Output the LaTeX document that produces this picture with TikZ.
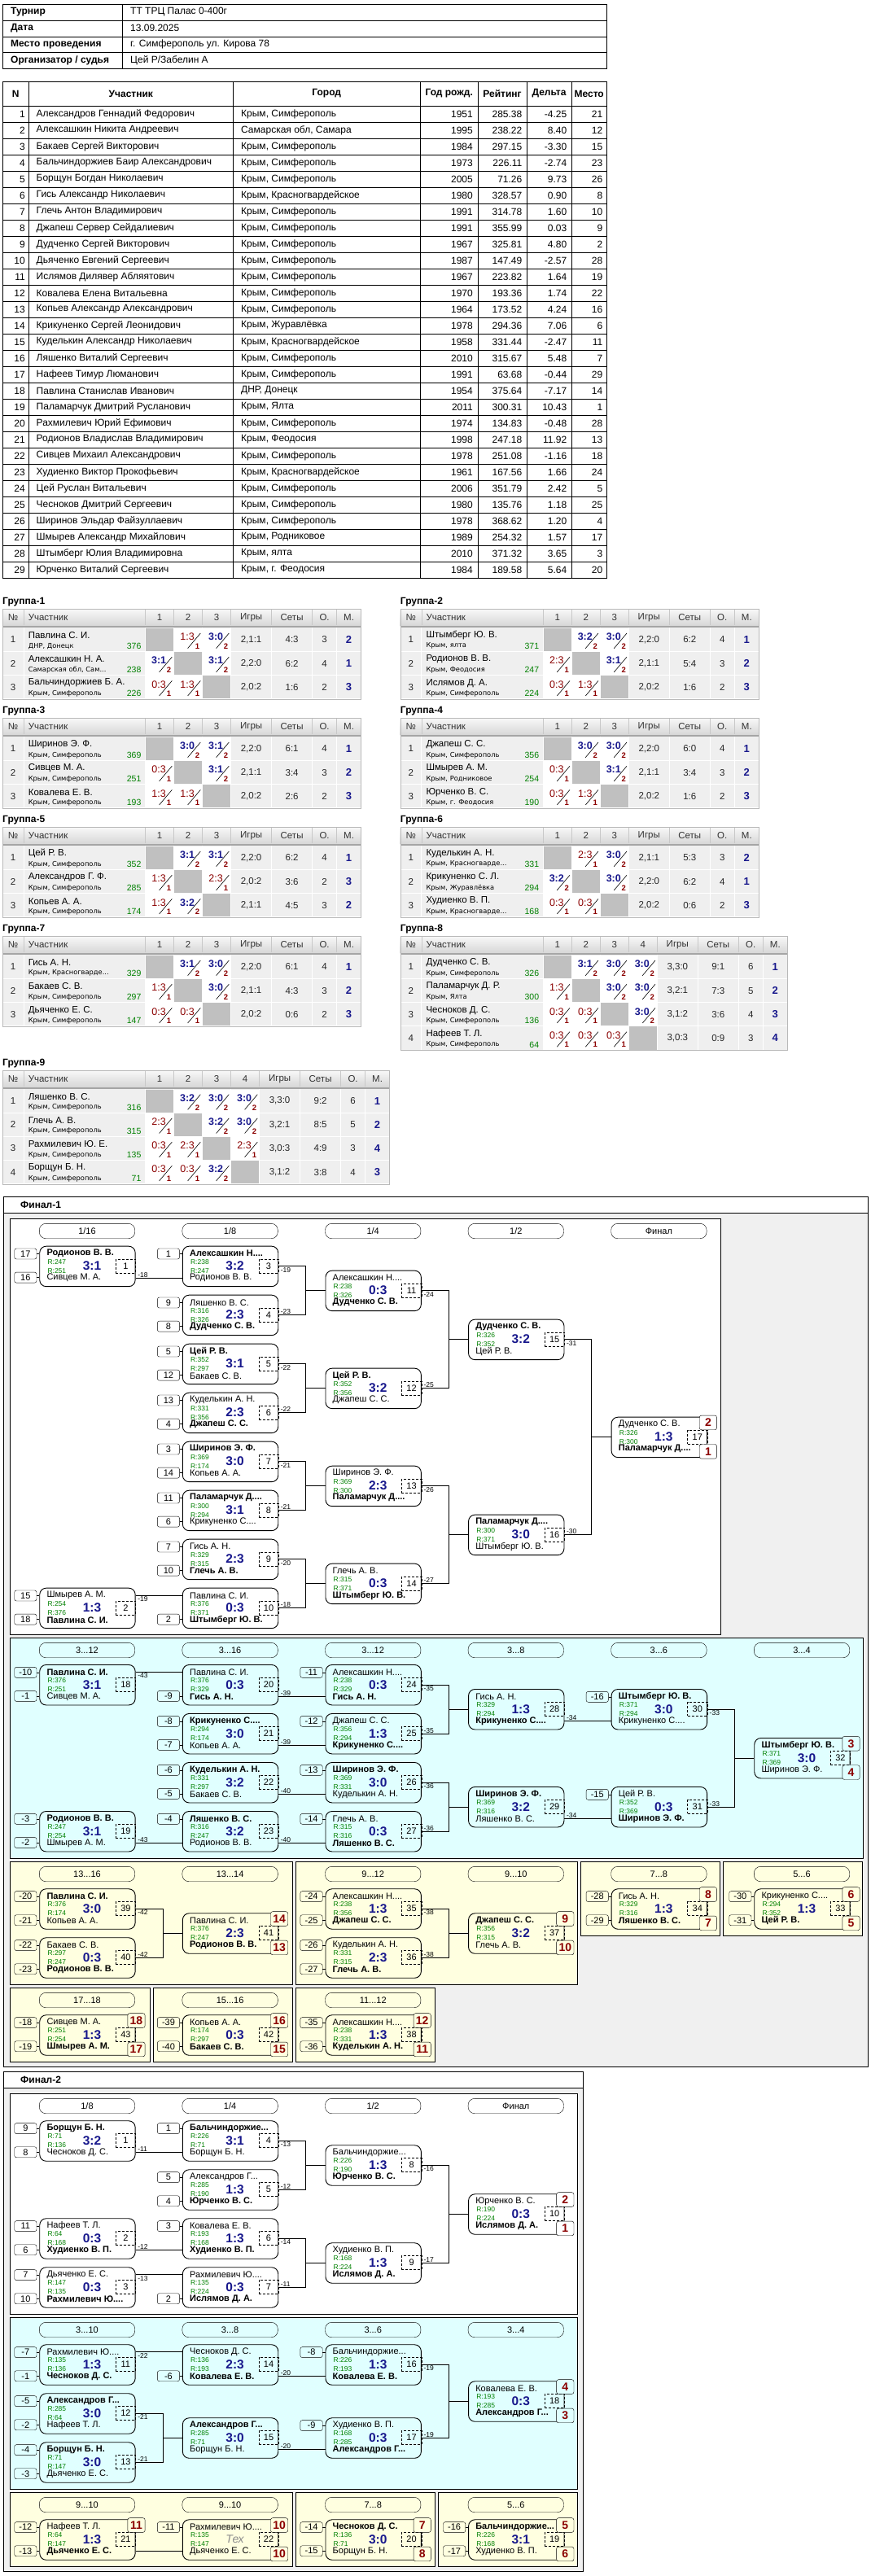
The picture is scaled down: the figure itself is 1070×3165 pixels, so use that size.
\documentclass[tikz,border=0pt]{standalone}
\usepackage{fontspec}
\setmainfont{Liberation Sans}
\newfontfamily\citiesfont{DejaVu Sans}
\usetikzlibrary{calc,positioning}

\definecolor{scoreblue}{RGB}{24,24,140}
\definecolor{lossred}{RGB}{139,0,0}
\definecolor{ratinggreen}{RGB}{0,128,0}
\definecolor{panelcyan}{RGB}{224,255,255}
\definecolor{panelyellow}{RGB}{255,255,224}
\definecolor{framegrey}{RGB}{240,240,240}
\definecolor{cellgrey}{RGB}{239,239,239}
\definecolor{diaggrey}{RGB}{192,192,192}
\definecolor{headtop}{RGB}{248,248,248}
\definecolor{headbottom}{RGB}{214,214,214}
\definecolor{headline}{RGB}{165,165,165}
\definecolor{headsep}{RGB}{200,200,200}
\definecolor{tableedge}{RGB}{185,185,185}
\definecolor{texgrey}{RGB}{140,140,140}

\newcommand\fsz[1]{\fontsize{#1}{#1}\selectfont}
\newcommand\W[1]{\textbf{#1}}
\newcommand\placefill{white}

% players table row: N, name, city, year, rating, delta, place
\newcommand\Player[7]{%
  \pgfmathsetmacro\py{120+20*#1}%
  \draw (3,\py+10) -- (745.6,\py+10);
  \node[pvalue] at (31,\py) {#1};
  \node[ptext] at (44.5,\py) {#2};
  \node[ptext] at (296,\py) {#3};
  \node[pvalue] at (581,\py) {#4};
  \node[pvalue] at (641.5,\py) {#5};
  \node[pvalue] at (696.5,\py) {#6};
  \node[pvalue] at (740.5,\py) {#7};
}

% group tables
\newcommand\GSet[2]{\def\gx{#1}\def\gy{#2}}
\newcommand\GTable[3]{% title, rows, score columns
  \pgfmathsetmacro\gs{175.6+35*#3}%
  \pgfmathsetmacro\gw{\gs+160}%
  \pgfmathsetmacro\gb{23+29.2*#2}%
  \node[gtitle] at (\gx,\gy-8.5) {#1};
  \shade[top color=headtop,bottom color=headbottom] (\gx,\gy) rectangle ++(\gw,21);
  \fill[cellgrey] (\gx,\gy+23) rectangle ++(\gw,\gb-23);
  \fill[headline] (\gx,\gy+21) rectangle ++(\gw,2);
  \foreach \c in {26,175.6,\gs+50,\gs+100,\gs+130}{
    \draw[white,line width=1pt] (\gx+\c,\gy+23) -- ++(0,\gb-23);
    \draw[headsep] (\gx+\c,\gy+1) -- ++(0,19);
  }
  \foreach \k in {1,...,#3}{
    \draw[white,line width=1pt] (\gx+175.6+35*\k,\gy+23) -- ++(0,\gb-23);
    \draw[headsep] (\gx+175.6+35*\k,\gy+1) -- ++(0,19);
    \node[ghead] at (\gx+158.1+35*\k,\gy+10.5) {\k};
  }
  \foreach \r in {1,...,#2}{
    \draw[white,line width=1pt] (\gx,\gy+23+29.2*\r) -- ++(\gw,0);
  }
  \draw[tableedge] (\gx,\gy) rectangle ++(\gw,\gb);
  \node[ghead] at (\gx+13,\gy+10.5) {№};
  \node[ghead,anchor=west] at (\gx+31.6,\gy+10.5) {Участник};
  \node[ghead] at (\gx+\gs+25,\gy+10.5) {Игры};
  \node[ghead] at (\gx+\gs+75,\gy+10.5) {Сеты};
  \node[ghead] at (\gx+\gs+115,\gy+10.5) {О.};
  \node[ghead] at (\gx+\gs+145,\gy+10.5) {М.};
}
\newcommand\GRow[4]{% row, name, city, rating
  \pgfmathsetmacro\ry{\gy+23+29.2*(#1-1)}%
  \node[gtext] at (\gx+13,\ry+14.6) {#1};
  \node[gname] at (\gx+31.6,\ry+9.5) {#2};
  \node[gcity] at (\gx+31.6,\ry+22.5) {#3};
  \node[grate] at (\gx+170.6,\ry+22.5) {#4};
}
\newcommand\GSum[6]{% row, score columns, games, sets, points, place
  \pgfmathsetmacro\ry{\gy+23+29.2*(#1-1)}%
  \pgfmathsetmacro\rx{\gx+175.6+35*#2}%
  \node[gtext] at (\rx+25,\ry+14.6) {#3};
  \node[gtext] at (\rx+75,\ry+14.6) {#4};
  \node[gtext] at (\rx+115,\ry+14.6) {#5};
  \node[gplace] at (\rx+145,\ry+14.6) {#6};
}
\newcommand\GWin[3]{% row, column, score
  \pgfmathsetmacro\ry{\gy+23+29.2*(#1-1)}%
  \pgfmathsetmacro\rx{\gx+175.6+35*(#2-1)}%
  \fill[white] (\rx+0.5,\ry+0.5) rectangle ++(34,28.2);
  \node[gwin] at (\rx+16.5,\ry+11) {#3};
  \draw[gslash] (\rx+17,\ry+25.3) -- (\rx+32.7,\ry+6.7);
  \node[gdigit] at (\rx+29,\ry+22.7) {2};
}
\newcommand\GLoss[3]{% row, column, score
  \pgfmathsetmacro\ry{\gy+23+29.2*(#1-1)}%
  \pgfmathsetmacro\rx{\gx+175.6+35*(#2-1)}%
  \fill[white] (\rx+0.5,\ry+0.5) rectangle ++(34,28.2);
  \node[gloss] at (\rx+16.5,\ry+11) {#3};
  \draw[gslash] (\rx+17,\ry+25.3) -- (\rx+32.7,\ry+6.7);
  \node[gdigit] at (\rx+29,\ry+22.7) {1};
}
\newcommand\GDiag[1]{%
  \pgfmathsetmacro\ry{\gy+23+29.2*(#1-1)}%
  \pgfmathsetmacro\rx{\gx+175.6+35*(#1-1)}%
  \fill[diaggrey] (\rx+0.5,\ry+0.5) rectangle ++(34,28.2);
}

% bracket: match box
% name, x, y, top player, top rating, bottom player, bottom rating, score, match no
\newcommand\Match[9]{%
  \node[matchbox] (#1) at (#2,#3) {};
  \node[playername] at ($(#1.north west)+(9,9.5)$) {#4};
  \node[ratingtxt] at ($(#1.north west)+(10,19.5)$) {R:#5};
  \node[ratingtxt] at ($(#1.north west)+(10,30.5)$) {R:#7};
  \node[playername] at ($(#1.north west)+(9,39.5)$) {#6};
  \node[scoretxt] at ($(#1.north west)+(64.7,24.7)$) {#8};
  \node[matchno] at ($(#1.north east)+(-12.2,24.7)$) {#9};
}
\newcommand\SeedT[2]{%
  \node[seedbox] (#1-st) at ($(#1.north west)+(-16.95,9.8)$) {#2};
  \draw (#1-st.east) -- (#1-st.east -| #1.west);
}
\newcommand\SeedB[2]{%
  \node[seedbox] (#1-sb) at ($(#1.north west)+(-16.95,38.9)$) {#2};
  \draw (#1-sb.east) -- (#1-sb.east -| #1.west);
}
\newcommand\PlaceT[2]{\node[placebox] (#1-pt) at ($(#1.north east)+(0.9,7.2)$) {#2};}
\newcommand\PlaceB[2]{\node[placebox] (#1-pb) at ($(#1.north east)+(0.9,42.6)$) {#2};}
% winner goes on into the bottom slot of the next box
\newcommand\ToBottom[3]{%
  \coordinate (#1-out) at ($(#1.north east)+(0,39.5)$);
  \draw[connector] (#1-out) -- (#1-out -| #2.west);
  \node[lbl,anchor=south west] at ($(#1-out)+(2.5,-0.8)$) {#3};
}
% winner goes on into the top slot of the next box
\newcommand\ToTop[3]{%
  \coordinate (#1-out) at ($(#1.north east)+(0,9.5)$);
  \draw[connector] (#1-out) -- (#1-out -| #2.west);
  \node[lbl,anchor=north west] at ($(#1-out)+(2.5,1.2)$) {#3};
}
% two boxes into one
\newcommand\Pair[5]{%
  \draw[connector] (#1.east) -- ++(33.5,0) |- (#3.west);
  \draw[connector] (#2.east) -- ++(33.5,0) |- (#3.west);
  \node[lbl,anchor=north west] at ($(#1.east)+(2.5,1.2)$) {#4};
  \node[lbl,anchor=south west] at ($(#2.east)+(2.5,-0.8)$) {#5};
}

\begin{document}
\begin{tikzpicture}[x=1pt,y=-1pt]

\tikzset{
  ptext/.style = {anchor=west, inner sep=0, font=\fsz{12}},
  pvalue/.style = {anchor=east, inner sep=0, font=\fsz{12}},
  phead/.style = {inner sep=0, font=\fsz{12}\bfseries},
  gtitle/.style = {anchor=west, inner sep=0, font=\fsz{12}\bfseries},
  ghead/.style = {inner sep=0, font=\fsz{11.5}, text=black!80},
  gtext/.style = {inner sep=0, font=\fsz{11.5}, text=black!85},
  gname/.style = {anchor=west, inner sep=0, font=\fsz{11.5}},
  gcity/.style = {anchor=west, inner sep=0, font=\citiesfont\fsz{8.3}},
  grate/.style = {anchor=east, inner sep=0, font=\fsz{10.5}, text=ratinggreen},
  gwin/.style = {inner sep=0, font=\fsz{12.5}\bfseries, text=scoreblue},
  gloss/.style = {inner sep=0, font=\fsz{12.5}, text=lossred},
  gdigit/.style = {inner sep=0, font=\fsz{9.5}\bfseries, text=lossred},
  gplace/.style = {inner sep=0, font=\fsz{13}\bfseries, text=scoreblue},
  gslash/.style = {line width=0.6pt},
  matchbox/.style = {draw, rounded corners=8pt, anchor=north west, minimum width=117.4pt,
                     minimum height=49.5pt, inner sep=0, line width=0.9pt},
  playername/.style = {anchor=west, inner sep=0, font=\fsz{11}},
  ratingtxt/.style = {anchor=west, inner sep=0, font=\fsz{8.5}, text=ratinggreen},
  scoretxt/.style = {inner sep=0, font=\fsz{15.5}\bfseries, text=scoreblue},
  matchno/.style = {draw, densely dashed, minimum width=24.4pt, minimum height=16.7pt,
                    inner sep=0, font=\fsz{11}},
  seedbox/.style = {draw, rounded corners=2.5pt, minimum width=27.3pt, minimum height=13pt,
                    inner sep=0, font=\fsz{11}},
  placebox/.style = {draw, fill=\placefill, rounded corners=2.5pt, minimum width=21.3pt,
                     minimum height=17.7pt, inner sep=0, font=\fsz{14}\bfseries, text=lossred},
  connector/.style = {line width=0.9pt},
  lbl/.style = {inner sep=0, font=\fsz{8.5}},
  stagepill/.style = {draw, rounded corners=8pt, minimum width=117.4pt, minimum height=18.4pt,
                      inner sep=0, font=\fsz{11}},
  panel/.style = {draw, line width=0.8pt}
}

\fill[white] (0,0) rectangle (1070,3165);
\useasboundingbox (0,0) rectangle (1070,3165);

% header
\draw (3,5) rectangle (745.6,84.4);
\draw (150.5,5) -- (150.5,84.4);
\draw (3,24.85) -- (745.6,24.85) (3,44.7) -- (745.6,44.7) (3,64.55) -- (745.6,64.55);
\node[ptext,font=\fsz{12}\bfseries] at (13,14.9) {Турнир};
\node[ptext,font=\fsz{12}\bfseries] at (13,34.8) {Дата};
\node[ptext,font=\fsz{12}\bfseries] at (13,54.6) {Место проведения};
\node[ptext,font=\fsz{12}\bfseries] at (13,74.5) {Организатор / судья};
\node[ptext] at (160,14.9) {ТТ ТРЦ Палас 0-400г};
\node[ptext] at (160,34.8) {13.09.2025};
\node[ptext] at (160,54.6) {г. Симферополь ул. Кирова 78};
\node[ptext] at (160,74.5) {Цей Р/Забелин А};

% players
\draw (3,100) rectangle (745.6,710);
\draw (3,130) -- (745.6,130);
\foreach \c in {35.6,285.9,516.4,586.9,647.1,701.8}
  \draw (\c,100) -- (\c,710);
\node[phead] at (19.3,115) {N};
\node[phead] at (160.8,115) {Участник};
\node[phead] at (401.2,115) {Город};
\node[phead] at (551.7,115) {Год рожд.};
\node[phead] at (617,115) {Рейтинг};
\node[phead] at (674.5,115) {Дельта};
\node[phead] at (723.7,115) {Место};
\Player{1}{Александров Геннадий Федорович}{Крым, Симферополь}{1951}{285.38}{-4.25}{21}
\Player{2}{Алексашкин Никита Андреевич}{Самарская обл, Самара}{1995}{238.22}{8.40}{12}
\Player{3}{Бакаев Сергей Викторович}{Крым, Симферополь}{1984}{297.15}{-3.30}{15}
\Player{4}{Бальчиндоржиев Баир Александрович}{Крым, Симферополь}{1973}{226.11}{-2.74}{23}
\Player{5}{Борщун Богдан Николаевич}{Крым, Симферополь}{2005}{71.26}{9.73}{26}
\Player{6}{Гись Александр Николаевич}{Крым, Красногвардейское}{1980}{328.57}{0.90}{8}
\Player{7}{Глечь Антон Владимирович}{Крым, Симферополь}{1991}{314.78}{1.60}{10}
\Player{8}{Джапеш Сервер Сейдалиевич}{Крым, Симферополь}{1991}{355.99}{0.03}{9}
\Player{9}{Дудченко Сергей Викторович}{Крым, Симферополь}{1967}{325.81}{4.80}{2}
\Player{10}{Дьяченко Евгений Сергеевич}{Крым, Симферополь}{1987}{147.49}{-2.57}{28}
\Player{11}{Ислямов Дилявер Абляятович}{Крым, Симферополь}{1967}{223.82}{1.64}{19}
\Player{12}{Ковалева Елена Витальевна}{Крым, Симферополь}{1970}{193.36}{1.74}{22}
\Player{13}{Копьев Александр Александрович}{Крым, Симферополь}{1964}{173.52}{4.24}{16}
\Player{14}{Крикуненко Сергей Леонидович}{Крым, Журавлёвка}{1978}{294.36}{7.06}{6}
\Player{15}{Куделькин Александр Николаевич}{Крым, Красногвардейское}{1958}{331.44}{-2.47}{11}
\Player{16}{Ляшенко Виталий Сергеевич}{Крым, Симферополь}{2010}{315.67}{5.48}{7}
\Player{17}{Нафеев Тимур Люманович}{Крым, Симферополь}{1991}{63.68}{-0.44}{29}
\Player{18}{Павлина Станислав Иванович}{ДНР, Донецк}{1954}{375.64}{-7.17}{14}
\Player{19}{Паламарчук Дмитрий Русланович}{Крым, Ялта}{2011}{300.31}{10.43}{1}
\Player{20}{Рахмилевич Юрий Ефимович}{Крым, Симферополь}{1974}{134.83}{-0.48}{28}
\Player{21}{Родионов Владислав Владимирович}{Крым, Феодосия}{1998}{247.18}{11.92}{13}
\Player{22}{Сивцев Михаил Александрович}{Крым, Симферополь}{1978}{251.08}{-1.16}{18}
\Player{23}{Худиенко Виктор Прокофьевич}{Крым, Красногвардейское}{1961}{167.56}{1.66}{24}
\Player{24}{Цей Руслан Витальевич}{Крым, Симферополь}{2006}{351.79}{2.42}{5}
\Player{25}{Чесноков Дмитрий Сергеевич}{Крым, Симферополь}{1980}{135.76}{1.18}{25}
\Player{26}{Ширинов Эльдар Файзуллаевич}{Крым, Симферополь}{1978}{368.62}{1.20}{4}
\Player{27}{Шмырев Александр Михайлович}{Крым, Родниковое}{1989}{254.32}{1.57}{17}
\Player{28}{Штымберг Юлия Владимировна}{Крым, ялта}{2010}{371.32}{3.65}{3}
\Player{29}{Юрченко Виталий Сергеевич}{Крым, г. Феодосия}{1984}{189.58}{5.64}{20}

% groups
\GSet{3}{748.3}\GTable{Группа-1}{3}{3}
\GRow{1}{Павлина С. И.}{ДНР, Донецк}{376}\GDiag{1}\GLoss{1}{2}{1:3}\GWin{1}{3}{3:0}\GSum{1}{3}{2,1:1}{4:3}{3}{2}
\GRow{2}{Алексашкин Н. А.}{Самарская обл, Сам...}{238}\GWin{2}{1}{3:1}\GDiag{2}\GWin{2}{3}{3:1}\GSum{2}{3}{2,2:0}{6:2}{4}{1}
\GRow{3}{Бальчиндоржиев Б. А.}{Крым, Симферополь}{226}\GLoss{3}{1}{0:3}\GLoss{3}{2}{1:3}\GDiag{3}\GSum{3}{3}{2,0:2}{1:6}{2}{3}

\GSet{491.7}{748.3}\GTable{Группа-2}{3}{3}
\GRow{1}{Штымберг Ю. В.}{Крым, ялта}{371}\GDiag{1}\GWin{1}{2}{3:2}\GWin{1}{3}{3:0}\GSum{1}{3}{2,2:0}{6:2}{4}{1}
\GRow{2}{Родионов В. В.}{Крым, Феодосия}{247}\GLoss{2}{1}{2:3}\GDiag{2}\GWin{2}{3}{3:1}\GSum{2}{3}{2,1:1}{5:4}{3}{2}
\GRow{3}{Ислямов Д. А.}{Крым, Симферополь}{224}\GLoss{3}{1}{0:3}\GLoss{3}{2}{1:3}\GDiag{3}\GSum{3}{3}{2,0:2}{1:6}{2}{3}

\GSet{3}{882.3}\GTable{Группа-3}{3}{3}
\GRow{1}{Ширинов Э. Ф.}{Крым, Симферополь}{369}\GDiag{1}\GWin{1}{2}{3:0}\GWin{1}{3}{3:1}\GSum{1}{3}{2,2:0}{6:1}{4}{1}
\GRow{2}{Сивцев М. А.}{Крым, Симферополь}{251}\GLoss{2}{1}{0:3}\GDiag{2}\GWin{2}{3}{3:1}\GSum{2}{3}{2,1:1}{3:4}{3}{2}
\GRow{3}{Ковалева Е. В.}{Крым, Симферополь}{193}\GLoss{3}{1}{1:3}\GLoss{3}{2}{1:3}\GDiag{3}\GSum{3}{3}{2,0:2}{2:6}{2}{3}

\GSet{491.7}{882.3}\GTable{Группа-4}{3}{3}
\GRow{1}{Джапеш С. С.}{Крым, Симферополь}{356}\GDiag{1}\GWin{1}{2}{3:0}\GWin{1}{3}{3:0}\GSum{1}{3}{2,2:0}{6:0}{4}{1}
\GRow{2}{Шмырев А. М.}{Крым, Родниковое}{254}\GLoss{2}{1}{0:3}\GDiag{2}\GWin{2}{3}{3:1}\GSum{2}{3}{2,1:1}{3:4}{3}{2}
\GRow{3}{Юрченко В. С.}{Крым, г. Феодосия}{190}\GLoss{3}{1}{0:3}\GLoss{3}{2}{1:3}\GDiag{3}\GSum{3}{3}{2,0:2}{1:6}{2}{3}

\GSet{3}{1016.3}\GTable{Группа-5}{3}{3}
\GRow{1}{Цей Р. В.}{Крым, Симферополь}{352}\GDiag{1}\GWin{1}{2}{3:1}\GWin{1}{3}{3:1}\GSum{1}{3}{2,2:0}{6:2}{4}{1}
\GRow{2}{Александров Г. Ф.}{Крым, Симферополь}{285}\GLoss{2}{1}{1:3}\GDiag{2}\GLoss{2}{3}{2:3}\GSum{2}{3}{2,0:2}{3:6}{2}{3}
\GRow{3}{Копьев А. А.}{Крым, Симферополь}{174}\GLoss{3}{1}{1:3}\GWin{3}{2}{3:2}\GDiag{3}\GSum{3}{3}{2,1:1}{4:5}{3}{2}

\GSet{491.7}{1016.3}\GTable{Группа-6}{3}{3}
\GRow{1}{Куделькин А. Н.}{Крым, Красногварде...}{331}\GDiag{1}\GLoss{1}{2}{2:3}\GWin{1}{3}{3:0}\GSum{1}{3}{2,1:1}{5:3}{3}{2}
\GRow{2}{Крикуненко С. Л.}{Крым, Журавлёвка}{294}\GWin{2}{1}{3:2}\GDiag{2}\GWin{2}{3}{3:0}\GSum{2}{3}{2,2:0}{6:2}{4}{1}
\GRow{3}{Худиенко В. П.}{Крым, Красногварде...}{168}\GLoss{3}{1}{0:3}\GLoss{3}{2}{0:3}\GDiag{3}\GSum{3}{3}{2,0:2}{0:6}{2}{3}

\GSet{3}{1150.3}\GTable{Группа-7}{3}{3}
\GRow{1}{Гись А. Н.}{Крым, Красногварде...}{329}\GDiag{1}\GWin{1}{2}{3:1}\GWin{1}{3}{3:0}\GSum{1}{3}{2,2:0}{6:1}{4}{1}
\GRow{2}{Бакаев С. В.}{Крым, Симферополь}{297}\GLoss{2}{1}{1:3}\GDiag{2}\GWin{2}{3}{3:0}\GSum{2}{3}{2,1:1}{4:3}{3}{2}
\GRow{3}{Дьяченко Е. С.}{Крым, Симферополь}{147}\GLoss{3}{1}{0:3}\GLoss{3}{2}{0:3}\GDiag{3}\GSum{3}{3}{2,0:2}{0:6}{2}{3}

\GSet{491.7}{1150.3}\GTable{Группа-8}{4}{4}
\GRow{1}{Дудченко С. В.}{Крым, Симферополь}{326}\GDiag{1}\GWin{1}{2}{3:1}\GWin{1}{3}{3:0}\GWin{1}{4}{3:0}\GSum{1}{4}{3,3:0}{9:1}{6}{1}
\GRow{2}{Паламарчук Д. Р.}{Крым, Ялта}{300}\GLoss{2}{1}{1:3}\GDiag{2}\GWin{2}{3}{3:0}\GWin{2}{4}{3:0}\GSum{2}{4}{3,2:1}{7:3}{5}{2}
\GRow{3}{Чесноков Д. С.}{Крым, Симферополь}{136}\GLoss{3}{1}{0:3}\GLoss{3}{2}{0:3}\GDiag{3}\GWin{3}{4}{3:0}\GSum{3}{4}{3,1:2}{3:6}{4}{3}
\GRow{4}{Нафеев Т. Л.}{Крым, Симферополь}{64}\GLoss{4}{1}{0:3}\GLoss{4}{2}{0:3}\GLoss{4}{3}{0:3}\GDiag{4}\GSum{4}{4}{3,0:3}{0:9}{3}{4}

\GSet{3}{1315}\GTable{Группа-9}{4}{4}
\GRow{1}{Ляшенко В. С.}{Крым, Симферополь}{316}\GDiag{1}\GWin{1}{2}{3:2}\GWin{1}{3}{3:0}\GWin{1}{4}{3:0}\GSum{1}{4}{3,3:0}{9:2}{6}{1}
\GRow{2}{Глечь А. В.}{Крым, Симферополь}{315}\GLoss{2}{1}{2:3}\GDiag{2}\GWin{2}{3}{3:2}\GWin{2}{4}{3:0}\GSum{2}{4}{3,2:1}{8:5}{5}{2}
\GRow{3}{Рахмилевич Ю. Е.}{Крым, Симферополь}{135}\GLoss{3}{1}{0:3}\GLoss{3}{2}{2:3}\GDiag{3}\GLoss{3}{4}{2:3}\GSum{3}{4}{3,0:3}{4:9}{3}{4}
\GRow{4}{Борщун Б. Н.}{Крым, Симферополь}{71}\GLoss{4}{1}{0:3}\GLoss{4}{2}{0:3}\GWin{4}{3}{3:2}\GDiag{4}\GSum{4}{4}{3,1:2}{3:8}{4}{3}

% Final-1 frame
\fill[framegrey] (4,1490.7) rectangle (1066.7,2539.3);
\draw[panel] (4,1470) rectangle (1066.7,2539.3);
\draw[panel] (4,1490.7) -- (1066.7,1490.7);
\node[gtitle] at (25,1480.8) {Финал-1};
\draw[panel,fill=white] (12.3,1497) rectangle (885.2,2008.3);
\draw[panel,fill=panelcyan] (12.3,2012.3) rectangle (1060.8,2283.3);
\draw[panel,fill=panelyellow] (12.3,2287.3) rectangle (358.9,2438.3);
\draw[panel,fill=panelyellow] (363,2287.3) rectangle (709.5,2438.3);
\draw[panel,fill=panelyellow] (713.6,2287.3) rectangle (884.5,2378.3);
\draw[panel,fill=panelyellow] (888.6,2287.3) rectangle (1059.5,2378.3);
\draw[panel,fill=panelyellow] (12.3,2442.3) rectangle (183.9,2533.3);
\draw[panel,fill=panelyellow] (188,2442.3) rectangle (358.9,2533.3);
\draw[panel,fill=panelyellow] (363,2442.3) rectangle (534.5,2533.3);

% Final-1, main draw
\node[stagepill] at (107,1512.5) {1/16};
\node[stagepill] at (282.6,1512.5) {1/8};
\node[stagepill] at (458.2,1512.5) {1/4};
\node[stagepill] at (633.8,1512.5) {1/2};
\node[stagepill] at (809.4,1512.5) {Финал};

\Match{a1}{48.3}{1530.7}{\W{Родионов В. В.}}{247}{Сивцев М. А.}{251}{3:1}{1}
\SeedT{a1}{17}\SeedB{a1}{16}
\Match{a2}{48.3}{1950.7}{Шмырев А. М.}{254}{\W{Павлина С. И.}}{376}{1:3}{2}
\SeedT{a2}{15}\SeedB{a2}{18}
\Match{a3}{223.9}{1530.7}{\W{Алексашкин Н....}}{238}{Родионов В. В.}{247}{3:2}{3}
\SeedT{a3}{1}
\Match{a4}{223.9}{1590.7}{Ляшенко В. С.}{316}{\W{Дудченко С. В.}}{326}{2:3}{4}
\SeedT{a4}{9}\SeedB{a4}{8}
\Match{a5}{223.9}{1650.7}{\W{Цей Р. В.}}{352}{Бакаев С. В.}{297}{3:1}{5}
\SeedT{a5}{5}\SeedB{a5}{12}
\Match{a6}{223.9}{1710.7}{Куделькин А. Н.}{331}{\W{Джапеш С. С.}}{356}{2:3}{6}
\SeedT{a6}{13}\SeedB{a6}{4}
\Match{a7}{223.9}{1770.7}{\W{Ширинов Э. Ф.}}{369}{Копьев А. А.}{174}{3:0}{7}
\SeedT{a7}{3}\SeedB{a7}{14}
\Match{a8}{223.9}{1830.7}{\W{Паламарчук Д....}}{300}{Крикуненко С....}{294}{3:1}{8}
\SeedT{a8}{11}\SeedB{a8}{6}
\Match{a9}{223.9}{1890.7}{Гись А. Н.}{329}{\W{Глечь А. В.}}{315}{2:3}{9}
\SeedT{a9}{7}\SeedB{a9}{10}
\Match{a10}{223.9}{1950.7}{Павлина С. И.}{376}{\W{Штымберг Ю. В.}}{371}{0:3}{10}
\SeedB{a10}{2}
\Match{a11}{399.5}{1560.7}{Алексашкин Н....}{238}{\W{Дудченко С. В.}}{326}{0:3}{11}
\Match{a12}{399.5}{1680.7}{\W{Цей Р. В.}}{352}{Джапеш С. С.}{356}{3:2}{12}
\Match{a13}{399.5}{1800.7}{Ширинов Э. Ф.}{369}{\W{Паламарчук Д....}}{300}{2:3}{13}
\Match{a14}{399.5}{1920.7}{Глечь А. В.}{315}{\W{Штымберг Ю. В.}}{371}{0:3}{14}
\Match{a15}{575.1}{1620.7}{\W{Дудченко С. В.}}{326}{Цей Р. В.}{352}{3:2}{15}
\Match{a16}{575.1}{1860.7}{\W{Паламарчук Д....}}{300}{Штымберг Ю. В.}{371}{3:0}{16}
\Match{a17}{750.7}{1740.7}{Дудченко С. В.}{326}{\W{Паламарчук Д....}}{300}{1:3}{17}
\PlaceT{a17}{2}\PlaceB{a17}{1}

\ToBottom{a1}{a3}{-18}
\ToTop{a2}{a10}{-19}
\Pair{a3}{a4}{a11}{-19}{-23}
\Pair{a5}{a6}{a12}{-22}{-22}
\Pair{a7}{a8}{a13}{-21}{-21}
\Pair{a9}{a10}{a14}{-20}{-18}
\Pair{a11}{a12}{a15}{-24}{-25}
\Pair{a13}{a14}{a16}{-26}{-27}
\Pair{a15}{a16}{a17}{-31}{-30}

% Final-1, places 3-12
\def\placefill{panelcyan}
\node[stagepill] at (107,2027.5) {3...12};
\node[stagepill] at (282.6,2027.5) {3...16};
\node[stagepill] at (458.2,2027.5) {3...12};
\node[stagepill] at (633.8,2027.5) {3...8};
\node[stagepill] at (809.4,2027.5) {3...6};
\node[stagepill] at (985,2027.5) {3...4};

\Match{b18}{48.3}{2045}{\W{Павлина С. И.}}{376}{Сивцев М. А.}{251}{3:1}{18}
\SeedT{b18}{-10}\SeedB{b18}{-1}
\Match{b19}{48.3}{2225}{\W{Родионов В. В.}}{247}{Шмырев А. М.}{254}{3:1}{19}
\SeedT{b19}{-3}\SeedB{b19}{-2}
\Match{b20}{223.9}{2045}{Павлина С. И.}{376}{\W{Гись А. Н.}}{329}{0:3}{20}
\SeedB{b20}{-9}
\Match{b21}{223.9}{2105}{\W{Крикуненко С....}}{294}{Копьев А. А.}{174}{3:0}{21}
\SeedT{b21}{-8}\SeedB{b21}{-7}
\Match{b22}{223.9}{2165}{\W{Куделькин А. Н.}}{331}{Бакаев С. В.}{297}{3:2}{22}
\SeedT{b22}{-6}\SeedB{b22}{-5}
\Match{b23}{223.9}{2225}{\W{Ляшенко В. С.}}{316}{Родионов В. В.}{247}{3:2}{23}
\SeedT{b23}{-4}
\Match{b24}{399.5}{2045}{Алексашкин Н....}{238}{\W{Гись А. Н.}}{329}{0:3}{24}
\SeedT{b24}{-11}
\Match{b25}{399.5}{2105}{Джапеш С. С.}{356}{\W{Крикуненко С....}}{294}{1:3}{25}
\SeedT{b25}{-12}
\Match{b26}{399.5}{2165}{\W{Ширинов Э. Ф.}}{369}{Куделькин А. Н.}{331}{3:0}{26}
\SeedT{b26}{-13}
\Match{b27}{399.5}{2225}{Глечь А. В.}{315}{\W{Ляшенко В. С.}}{316}{0:3}{27}
\SeedT{b27}{-14}
\Match{b28}{575.1}{2075}{Гись А. Н.}{329}{\W{Крикуненко С....}}{294}{1:3}{28}
\Match{b29}{575.1}{2195}{\W{Ширинов Э. Ф.}}{369}{Ляшенко В. С.}{316}{3:2}{29}
\Match{b30}{750.7}{2075}{\W{Штымберг Ю. В.}}{371}{Крикуненко С....}{294}{3:0}{30}
\SeedT{b30}{-16}
\Match{b31}{750.7}{2195}{Цей Р. В.}{352}{\W{Ширинов Э. Ф.}}{369}{0:3}{31}
\SeedT{b31}{-15}
\Match{b32}{926.3}{2135}{\W{Штымберг Ю. В.}}{371}{Ширинов Э. Ф.}{369}{3:0}{32}
\PlaceT{b32}{3}\PlaceB{b32}{4}

\ToTop{b18}{b20}{-43}
\ToBottom{b19}{b23}{-43}
\ToBottom{b20}{b24}{-39}
\ToBottom{b21}{b25}{-39}
\ToBottom{b22}{b26}{-40}
\ToBottom{b23}{b27}{-40}
\Pair{b24}{b25}{b28}{-35}{-35}
\Pair{b26}{b27}{b29}{-36}{-36}
\ToBottom{b28}{b30}{-34}
\ToBottom{b29}{b31}{-34}
\Pair{b30}{b31}{b32}{-33}{-33}

% Final-1, places 5-18
\def\placefill{panelyellow}
\node[stagepill] at (107,2302.5) {13...16};
\node[stagepill] at (282.6,2302.5) {13...14};
\node[stagepill] at (458.2,2302.5) {9...12};
\node[stagepill] at (633.8,2302.5) {9...10};
\node[stagepill] at (809.4,2302.5) {7...8};
\node[stagepill] at (985,2302.5) {5...6};

\Match{c39}{48.3}{2320.3}{\W{Павлина С. И.}}{376}{Копьев А. А.}{174}{3:0}{39}
\SeedT{c39}{-20}\SeedB{c39}{-21}
\Match{c40}{48.3}{2380.3}{Бакаев С. В.}{297}{\W{Родионов В. В.}}{247}{0:3}{40}
\SeedT{c40}{-22}\SeedB{c40}{-23}
\Match{c41}{223.9}{2350.3}{Павлина С. И.}{376}{\W{Родионов В. В.}}{247}{2:3}{41}
\PlaceT{c41}{14}\PlaceB{c41}{13}
\Pair{c39}{c40}{c41}{-42}{-42}

\Match{c35}{399.5}{2320.3}{Алексашкин Н....}{238}{\W{Джапеш С. С.}}{356}{1:3}{35}
\SeedT{c35}{-24}\SeedB{c35}{-25}
\Match{c36}{399.5}{2380.3}{Куделькин А. Н.}{331}{\W{Глечь А. В.}}{315}{2:3}{36}
\SeedT{c36}{-26}\SeedB{c36}{-27}
\Match{c37}{575.1}{2350.3}{\W{Джапеш С. С.}}{356}{Глечь А. В.}{315}{3:2}{37}
\PlaceT{c37}{9}\PlaceB{c37}{10}
\Pair{c35}{c36}{c37}{-38}{-38}

\Match{c34}{750.7}{2320.3}{Гись А. Н.}{329}{\W{Ляшенко В. С.}}{316}{1:3}{34}
\SeedT{c34}{-28}\SeedB{c34}{-29}
\PlaceT{c34}{8}\PlaceB{c34}{7}

\Match{c33}{926.3}{2320.3}{Крикуненко С....}{294}{\W{Цей Р. В.}}{352}{1:3}{33}
\SeedT{c33}{-30}\SeedB{c33}{-31}
\PlaceT{c33}{6}\PlaceB{c33}{5}

\node[stagepill] at (107,2457.5) {17...18};
\node[stagepill] at (282.6,2457.5) {15...16};
\node[stagepill] at (458.2,2457.5) {11...12};

\Match{c43}{48.3}{2475.3}{Сивцев М. А.}{251}{\W{Шмырев А. М.}}{254}{1:3}{43}
\SeedT{c43}{-18}\SeedB{c43}{-19}
\PlaceT{c43}{18}\PlaceB{c43}{17}
\Match{c42}{223.9}{2475.3}{Копьев А. А.}{174}{\W{Бакаев С. В.}}{297}{0:3}{42}
\SeedT{c42}{-39}\SeedB{c42}{-40}
\PlaceT{c42}{16}\PlaceB{c42}{15}
\Match{c38}{399.5}{2475.3}{Алексашкин Н....}{238}{\W{Куделькин А. Н.}}{331}{1:3}{38}
\SeedT{c38}{-35}\SeedB{c38}{-36}
\PlaceT{c38}{12}\PlaceB{c38}{11}

% Final-2 frame
\fill[framegrey] (4,2565.7) rectangle (716.1,3159.3);
\draw[panel] (4,2545) rectangle (716.1,3159.3);
\draw[panel] (4,2565.7) -- (716.1,2565.7);
\node[gtitle] at (25,2555.5) {Финал-2};
\draw[panel,fill=white] (12.3,2572.3) rectangle (709.5,2843.3);
\draw[panel,fill=panelcyan] (12.3,2847.3) rectangle (709.5,3058.3);
\draw[panel,fill=panelyellow] (12.3,3062.3) rectangle (358.9,3153.3);
\draw[panel,fill=panelyellow] (363,3062.3) rectangle (534.5,3153.3);
\draw[panel,fill=panelyellow] (538.6,3062.3) rectangle (709.5,3153.3);

% Final-2, main draw
\def\placefill{white}
\node[stagepill] at (107,2587.5) {1/8};
\node[stagepill] at (282.6,2587.5) {1/4};
\node[stagepill] at (458.2,2587.5) {1/2};
\node[stagepill] at (633.8,2587.5) {Финал};

\Match{d1}{48.3}{2605.3}{\W{Борщун Б. Н.}}{71}{Чесноков Д. С.}{136}{3:2}{1}
\SeedT{d1}{9}\SeedB{d1}{8}
\Match{d2}{48.3}{2725.3}{Нафеев Т. Л.}{64}{\W{Худиенко В. П.}}{168}{0:3}{2}
\SeedT{d2}{11}\SeedB{d2}{6}
\Match{d3}{48.3}{2785.3}{Дьяченко Е. С.}{147}{\W{Рахмилевич Ю....}}{135}{0:3}{3}
\SeedT{d3}{7}\SeedB{d3}{10}
\Match{d4}{223.9}{2605.3}{\W{Бальчиндоржие...}}{226}{Борщун Б. Н.}{71}{3:1}{4}
\SeedT{d4}{1}
\Match{d5}{223.9}{2665.3}{Александров Г...}{285}{\W{Юрченко В. С.}}{190}{1:3}{5}
\SeedT{d5}{5}\SeedB{d5}{4}
\Match{d6}{223.9}{2725.3}{Ковалева Е. В.}{193}{\W{Худиенко В. П.}}{168}{1:3}{6}
\SeedT{d6}{3}
\Match{d7}{223.9}{2785.3}{Рахмилевич Ю....}{135}{\W{Ислямов Д. А.}}{224}{0:3}{7}
\SeedB{d7}{2}
\Match{d8}{399.5}{2635.3}{Бальчиндоржие...}{226}{\W{Юрченко В. С.}}{190}{1:3}{8}
\Match{d9}{399.5}{2755.3}{Худиенко В. П.}{168}{\W{Ислямов Д. А.}}{224}{1:3}{9}
\Match{d10}{575.1}{2695.3}{Юрченко В. С.}{190}{\W{Ислямов Д. А.}}{224}{0:3}{10}
\PlaceT{d10}{2}\PlaceB{d10}{1}

\ToBottom{d1}{d4}{-11}
\ToBottom{d2}{d6}{-12}
\ToTop{d3}{d7}{-13}
\Pair{d4}{d5}{d8}{-13}{-12}
\Pair{d6}{d7}{d9}{-14}{-11}
\Pair{d8}{d9}{d10}{-16}{-17}

% Final-2, places 3-10
\def\placefill{panelcyan}
\node[stagepill] at (107,2862.5) {3...10};
\node[stagepill] at (282.6,2862.5) {3...8};
\node[stagepill] at (458.2,2862.5) {3...6};
\node[stagepill] at (633.8,2862.5) {3...4};

\Match{e11}{48.3}{2880.3}{Рахмилевич Ю....}{135}{\W{Чесноков Д. С.}}{136}{1:3}{11}
\SeedT{e11}{-7}\SeedB{e11}{-1}
\Match{e12}{48.3}{2940.3}{\W{Александров Г...}}{285}{Нафеев Т. Л.}{64}{3:0}{12}
\SeedT{e12}{-5}\SeedB{e12}{-2}
\Match{e13}{48.3}{3000.3}{\W{Борщун Б. Н.}}{71}{Дьяченко Е. С.}{147}{3:0}{13}
\SeedT{e13}{-4}\SeedB{e13}{-3}
\Match{e14}{223.9}{2880.3}{Чесноков Д. С.}{136}{\W{Ковалева Е. В.}}{193}{2:3}{14}
\SeedB{e14}{-6}
\Match{e15}{223.9}{2970.3}{\W{Александров Г...}}{285}{Борщун Б. Н.}{71}{3:0}{15}
\Match{e16}{399.5}{2880.3}{Бальчиндоржие...}{226}{\W{Ковалева Е. В.}}{193}{1:3}{16}
\SeedT{e16}{-8}
\Match{e17}{399.5}{2970.3}{Худиенко В. П.}{168}{\W{Александров Г...}}{285}{0:3}{17}
\SeedT{e17}{-9}
\Match{e18}{575.1}{2925.3}{Ковалева Е. В.}{193}{\W{Александров Г...}}{285}{0:3}{18}
\PlaceT{e18}{4}\PlaceB{e18}{3}

\ToTop{e11}{e14}{-22}
\Pair{e12}{e13}{e15}{-21}{-21}
\ToBottom{e14}{e16}{-20}
\ToBottom{e15}{e17}{-20}
\Pair{e16}{e17}{e18}{-19}{-19}

% Final-2, places 5-11
\def\placefill{panelyellow}
\node[stagepill] at (107,3077.5) {9...10};
\node[stagepill] at (282.6,3077.5) {9...10};
\node[stagepill] at (458.2,3077.5) {7...8};
\node[stagepill] at (633.8,3077.5) {5...6};

\Match{h21}{48.3}{3095.3}{Нафеев Т. Л.}{64}{\W{Дьяченко Е. С.}}{147}{1:3}{21}
\SeedT{h21}{-12}\SeedB{h21}{-13}
\PlaceT{h21}{11}
\Match{h22}{223.9}{3095.3}{Рахмилевич Ю....}{135}{Дьяченко Е. С.}{147}{{\color{texgrey}\mdseries\itshape\fsz{14}Тех}}{22}
\SeedT{h22}{-11}
\PlaceT{h22}{10}\PlaceB{h22}{10}
\ToBottom{h21}{h22}{}
\Match{h20}{399.5}{3095.3}{\W{Чесноков Д. С.}}{136}{Борщун Б. Н.}{71}{3:0}{20}
\SeedT{h20}{-14}\SeedB{h20}{-15}
\PlaceT{h20}{7}\PlaceB{h20}{8}
\Match{h19}{575.1}{3095.3}{\W{Бальчиндоржие...}}{226}{Худиенко В. П.}{168}{3:1}{19}
\SeedT{h19}{-16}\SeedB{h19}{-17}
\PlaceT{h19}{5}\PlaceB{h19}{6}

\end{tikzpicture}
\end{document}
